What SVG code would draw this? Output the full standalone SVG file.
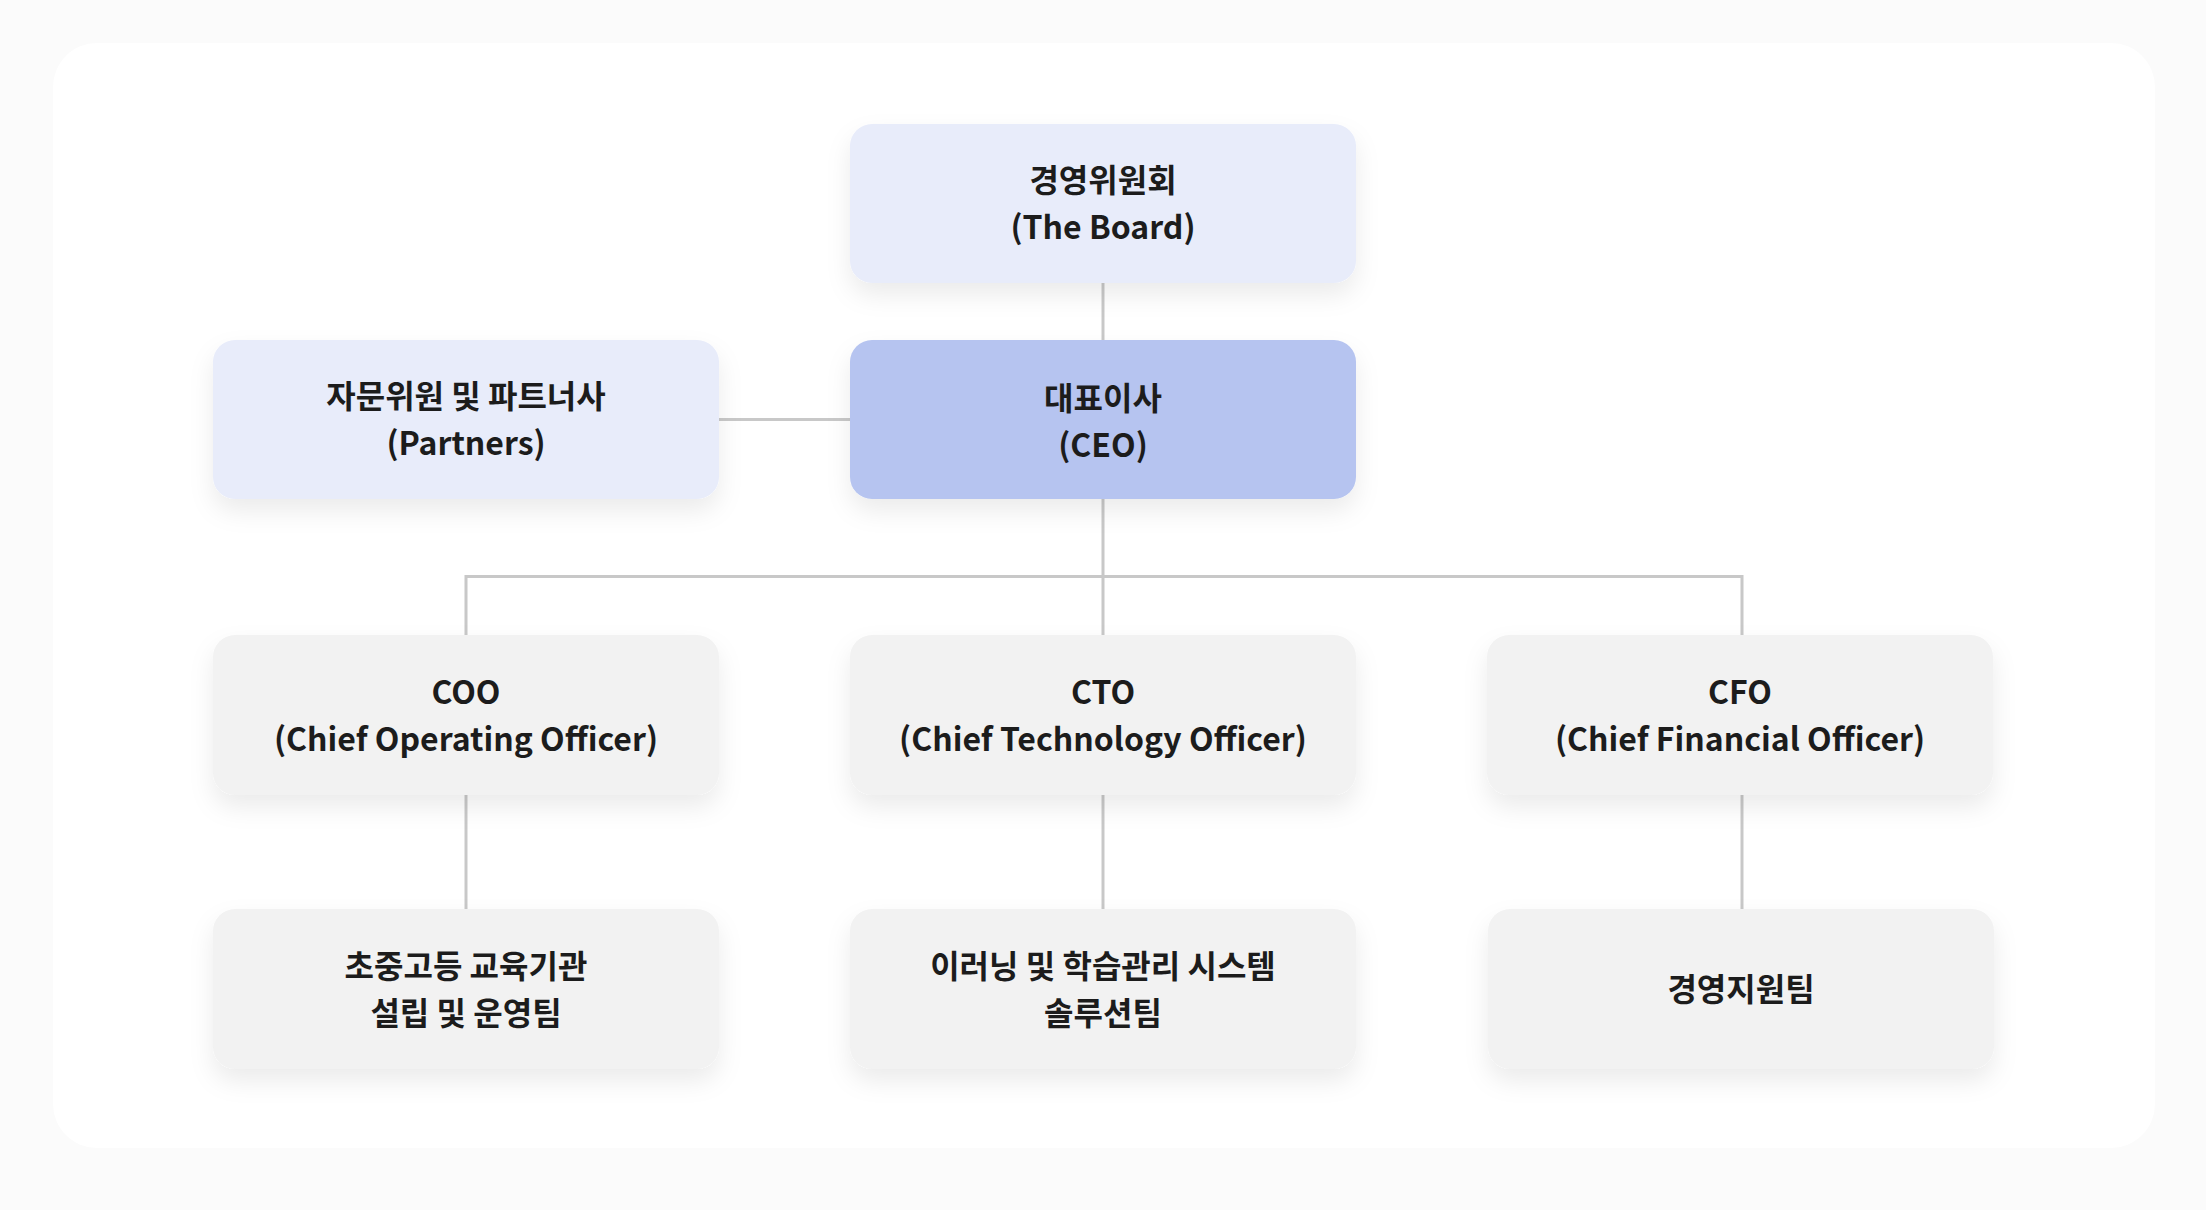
<svg xmlns="http://www.w3.org/2000/svg" width="2206" height="1210" viewBox="0 0 2206 1210">
  <defs>
    <filter id="sh" x="-20%" y="-30%" width="140%" height="180%">
      <feDropShadow dx="0" dy="12" stdDeviation="12" flood-color="#000000" flood-opacity="0.08"/>
    </filter>
    <style>
      .node rect { filter: url(#sh); }
      .lav { fill: #e8ecfa; }
      .ceo { fill: #b6c4f0; }
      .gry { fill: #f2f2f2; }
      .lbl { font-family: "Noto Sans CJK KR", "Noto Sans", sans-serif; font-weight: 700; font-size: 32px; fill: #1c1c1c; text-anchor: middle; dominant-baseline: central; }
      .conn { stroke: #c8c8c8; stroke-width: 3; fill: none; }
    </style>
  </defs>
  <rect x="0" y="0" width="2206" height="1210" fill="#fbfbfb"/>
  <rect x="53" y="43" width="2102" height="1105" rx="44" fill="#ffffff"/>

  <g id="connectors">
    <line class="conn" x1="1103" y1="283" x2="1103" y2="340"/>
    <line class="conn" x1="719" y1="419.5" x2="850" y2="419.5"/>
    <path class="conn" d="M1103 499 V635 M466 635 V576.5 H1742 V635"/>
    <line class="conn" x1="466" y1="795" x2="466" y2="909"/>
    <line class="conn" x1="1103" y1="795" x2="1103" y2="909"/>
    <line class="conn" x1="1742" y1="795" x2="1742" y2="909"/>
  </g>

  <g id="board" class="node">
    <rect class="lav" x="850" y="124" width="506" height="159" rx="22"/>
    <text class="lbl" x="1103" y="178">경영위원회</text>
    <text class="lbl" x="1103" y="224.5">(The Board)</text>
  </g>
  <g id="partners" class="node">
    <rect class="lav" x="213" y="340" width="506" height="159" rx="22"/>
    <text class="lbl" x="466" y="394">자문위원 및 파트너사</text>
    <text class="lbl" x="466" y="440.5">(Partners)</text>
  </g>
  <g id="ceo" class="node">
    <rect class="ceo" x="850" y="340" width="506" height="159" rx="22"/>
    <text class="lbl" x="1103" y="396">대표이사</text>
    <text class="lbl" x="1103" y="442.5">(CEO)</text>
  </g>

  <g id="coo" class="node">
    <rect class="gry" x="213" y="635" width="506" height="160" rx="22"/>
    <text class="lbl" x="466" y="690">COO</text>
    <text class="lbl" x="466" y="736.5">(Chief Operating Officer)</text>
  </g>
  <g id="cto" class="node">
    <rect class="gry" x="850" y="635" width="506" height="160" rx="22"/>
    <text class="lbl" x="1103" y="690">CTO</text>
    <text class="lbl" x="1103" y="736.5">(Chief Technology Officer)</text>
  </g>
  <g id="cfo" class="node">
    <rect class="gry" x="1487" y="635" width="506" height="160" rx="22"/>
    <text class="lbl" x="1740" y="690">CFO</text>
    <text class="lbl" x="1740" y="736.5">(Chief Financial Officer)</text>
  </g>

  <g id="school-team" class="node">
    <rect class="gry" x="213" y="909" width="506" height="160" rx="22"/>
    <text class="lbl" x="466" y="964">초중고등 교육기관</text>
    <text class="lbl" x="466" y="1010.5">설립 및 운영팀</text>
  </g>
  <g id="elearning-team" class="node">
    <rect class="gry" x="850" y="909" width="506" height="160" rx="22"/>
    <text class="lbl" x="1103" y="964">이러닝 및 학습관리 시스템</text>
    <text class="lbl" x="1103" y="1010.5">솔루션팀</text>
  </g>
  <g id="support-team" class="node">
    <rect class="gry" x="1488" y="909" width="506" height="160" rx="22"/>
    <text class="lbl" x="1741" y="987">경영지원팀</text>
  </g>
</svg>
